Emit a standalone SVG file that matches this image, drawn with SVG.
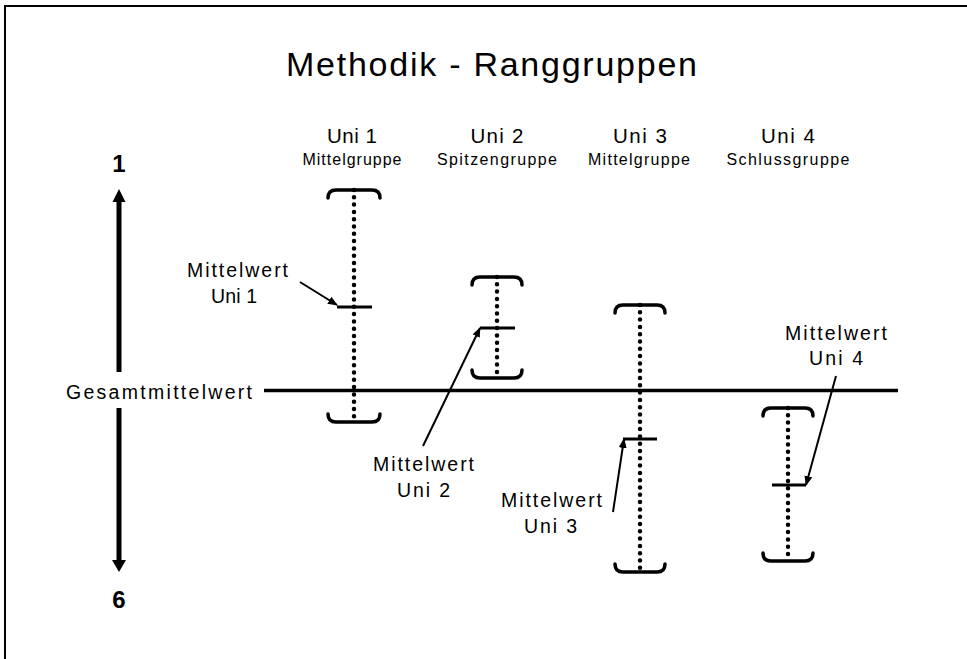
<svg xmlns="http://www.w3.org/2000/svg" width="967" height="659" viewBox="0 0 967 659">
<defs>
<style>
text{font-family:"Liberation Sans",Arial,sans-serif;fill:#000}
.title{font-size:34px}
.hdr{font-size:20.5px}
.sub{font-size:16px}
.lbl{font-size:19.5px}
.num{font-size:24px;font-weight:bold}
.brk{fill:none;stroke:#000;stroke-width:3.5;stroke-linecap:round}
.dots{fill:none;stroke:#000;stroke-width:4.5;stroke-linecap:round;stroke-dasharray:0 7.3}
.tick{stroke:#000;stroke-width:3}
.conn{stroke:#000;stroke-width:2;fill:none}
</style>
<marker id="ah" viewBox="0 0 10 8" refX="9" refY="4" markerWidth="10" markerHeight="8" markerUnits="userSpaceOnUse" orient="auto">
<path d="M0,0 L10,4 L0,8 Z" fill="#000"/>
</marker>
</defs>
<rect x="0" y="0" width="967" height="659" fill="#fff"/>
<rect x="5" y="6" width="990" height="690" fill="none" stroke="#000" stroke-width="2"/>

<g id="title"><text class="title" x="491.5" y="76" text-anchor="middle" textLength="411" lengthAdjust="spacing">Methodik - Ranggruppen</text></g>

<g id="axis">
<text class="num" x="119" y="172" text-anchor="middle">1</text>
<line x1="119" y1="200" x2="119" y2="372" stroke="#000" stroke-width="5"/>
<polygon points="119,189 112.5,202 125.5,202" fill="#000"/>
<line x1="119" y1="408" x2="119" y2="562" stroke="#000" stroke-width="5"/>
<polygon points="119,572 112,560 126,560" fill="#000"/>
<text class="num" x="119" y="608" text-anchor="middle">6</text>
</g>

<g id="gesamtmittelwert">
<text class="lbl" x="66" y="399" textLength="186" lengthAdjust="spacing">Gesamtmittelwert</text>
<line x1="264" y1="390.5" x2="898" y2="390.5" stroke="#000" stroke-width="3.5"/>
</g>

<g id="uni1">
<text class="hdr" x="352" y="143" text-anchor="middle" textLength="50" lengthAdjust="spacing">Uni 1</text>
<text class="sub" x="352" y="165" text-anchor="middle" textLength="99" lengthAdjust="spacing">Mittelgruppe</text>
<line class="dots" x1="354" y1="190" x2="354" y2="422"/>
<path class="brk" d="M328,198 Q328,190 336,190 L372,190 Q380,190 380,198"/>
<path class="brk" d="M328,414 Q328,422 336,422 L372,422 Q380,422 380,414"/>
<line class="tick" x1="337" y1="307" x2="372" y2="307"/>
</g>

<g id="uni2">
<text class="hdr" x="497" y="143" text-anchor="middle" textLength="53" lengthAdjust="spacing">Uni 2</text>
<text class="sub" x="497" y="165" text-anchor="middle" textLength="120" lengthAdjust="spacing">Spitzengruppe</text>
<line class="dots" x1="497" y1="277" x2="497" y2="378"/>
<path class="brk" d="M472,285 Q472,277 480,277 L514,277 Q522,277 522,285"/>
<path class="brk" d="M472,370 Q472,378 480,378 L514,378 Q522,378 522,370"/>
<line class="tick" x1="480" y1="328" x2="515" y2="328"/>
</g>

<g id="uni3">
<text class="hdr" x="640" y="143" text-anchor="middle" textLength="54" lengthAdjust="spacing">Uni 3</text>
<text class="sub" x="639" y="165" text-anchor="middle" textLength="102" lengthAdjust="spacing">Mittelgruppe</text>
<line class="dots" x1="640" y1="305" x2="640" y2="572"/>
<path class="brk" d="M615,313 Q615,305 623,305 L657,305 Q665,305 665,313"/>
<path class="brk" d="M615,564 Q615,572 623,572 L657,572 Q665,572 665,564"/>
<line class="tick" x1="623" y1="439" x2="657" y2="439"/>
</g>

<g id="uni4">
<text class="hdr" x="788" y="143" text-anchor="middle" textLength="54" lengthAdjust="spacing">Uni 4</text>
<text class="sub" x="788" y="165" text-anchor="middle" textLength="123" lengthAdjust="spacing">Schlussgruppe</text>
<line class="dots" x1="788" y1="408" x2="788" y2="561"/>
<path class="brk" d="M763,416 Q763,408 771,408 L805,408 Q813,408 813,416"/>
<path class="brk" d="M763,553 Q763,561 771,561 L805,561 Q813,561 813,553"/>
<line class="tick" x1="772" y1="485" x2="806" y2="485"/>
</g>

<g id="label-mw1">
<text class="lbl" x="237.5" y="277" text-anchor="middle" textLength="101" lengthAdjust="spacing">Mittelwert</text>
<text class="lbl" x="234" y="303" text-anchor="middle" textLength="46" lengthAdjust="spacing">Uni 1</text>
</g>
<g id="label-mw2">
<text class="lbl" x="423.5" y="471" text-anchor="middle" textLength="101" lengthAdjust="spacing">Mittelwert</text>
<text class="lbl" x="423.5" y="497" text-anchor="middle" textLength="53" lengthAdjust="spacing">Uni 2</text>
</g>
<g id="label-mw3">
<text class="lbl" x="551.5" y="507" text-anchor="middle" textLength="101" lengthAdjust="spacing">Mittelwert</text>
<text class="lbl" x="550.5" y="533" text-anchor="middle" textLength="53" lengthAdjust="spacing">Uni 3</text>
</g>
<g id="label-mw4">
<text class="lbl" x="836" y="340" text-anchor="middle" textLength="102" lengthAdjust="spacing">Mittelwert</text>
<text class="lbl" x="836" y="365" text-anchor="middle" textLength="54" lengthAdjust="spacing">Uni 4</text>
</g>

<g id="connectors">
<line class="conn" x1="300" y1="282" x2="337" y2="305" marker-end="url(#ah)"/>
<line class="conn" x1="423" y1="446" x2="480" y2="328" marker-end="url(#ah)"/>
<line class="conn" x1="613" y1="512" x2="624" y2="439" marker-end="url(#ah)"/>
<line class="conn" x1="836" y1="376" x2="806" y2="485" marker-end="url(#ah)"/>
</g>
</svg>
